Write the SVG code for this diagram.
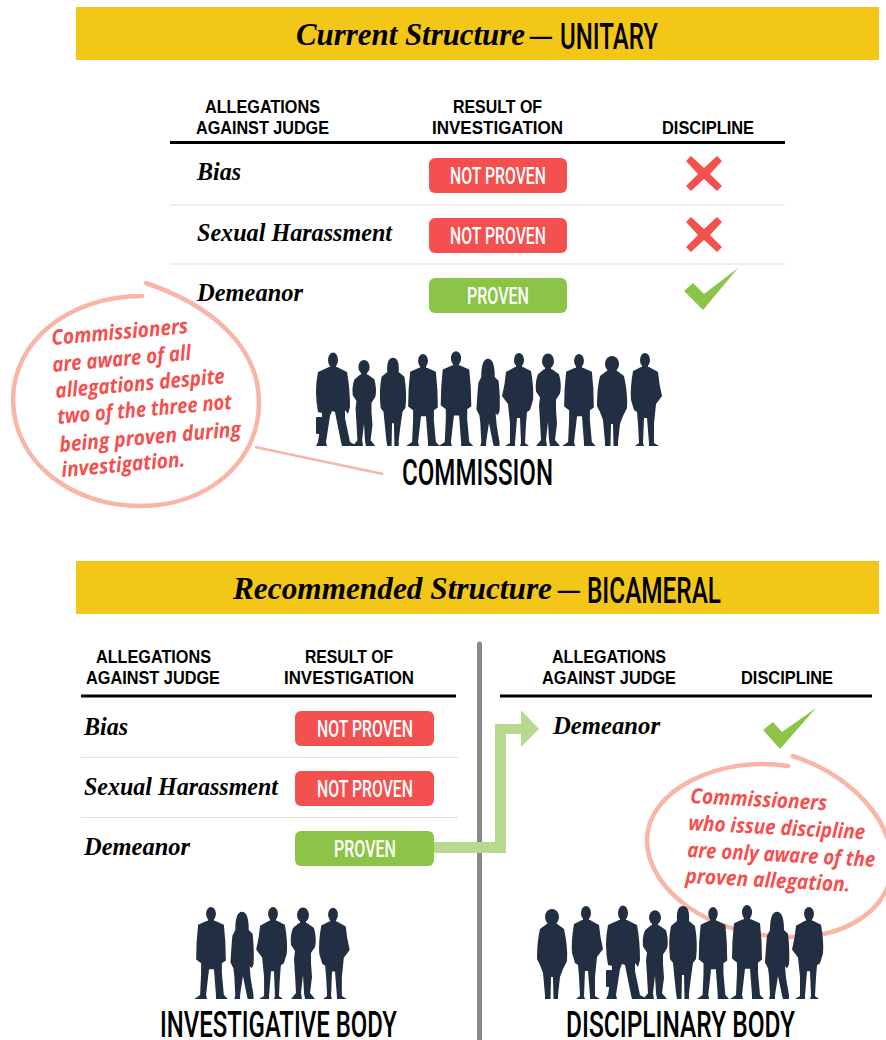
<svg xmlns="http://www.w3.org/2000/svg" width="886" height="1040" viewBox="0 0 886 1040">
<style>
.bar{fill:#f2c718}
.ti{font:italic bold 32px "Liberation Serif",serif;fill:#000}
.cn{font-family:Roboto,"Liberation Sans",sans-serif;fill:#000}
.big{font-size:36px;font-weight:500}
.hd{font:bold 19px "Liberation Sans",sans-serif;fill:#000}
.row{font:italic bold 26px "Liberation Serif",serif;fill:#000}
.pill{font:500 24px Roboto,"Liberation Sans",sans-serif;fill:#fff}
.red{fill:#f45050}.grn{fill:#8cc447}
.rule{stroke:#000;stroke-width:3}
.thin{stroke:#e6e0d4;stroke-width:1.2}
.bub{fill:none;stroke:#f9b5a6;stroke-width:4.5;stroke-linecap:round}
.note{font:italic 700 21px "Open Sans",sans-serif;fill:#f45050}
.p{fill:#222f42}
</style>
<defs>
<g id="m1" class="p"><ellipse cx="0" cy="-86" rx="5" ry="7.5"/><rect x="-3" y="-82" width="6" height="5"/><path d="M-4,-79 L4,-79 L14,-74 Q17,-58 17,-39 L15,-32 L12,-36 L12,-28 L17,-4 L24,0 L9,0 L8,-4 L2,-34 L-1,-35 L-3,-30 L-7,-4 L-6,0 L-17,0 L-15,-4 L-11,-30 L-11,-33 L-15,-34 Q-19,-55 -15,-74 Z"/><rect x="-17" y="-29" width="6" height="17" rx="1"/></g>
<g id="m2" class="p"><ellipse cx="0" cy="-86" rx="5" ry="7"/><rect x="-3" y="-82" width="6" height="5"/><path d="M-4,-79 L4,-79 L13,-75 Q15,-58 15,-39 L11,-36 L11,-26 L13,-4 L17,0 L5,0 L5,-4 L3,-30 L-2,-30 L-5,-4 L-4,0 L-17,0 L-11,-4 L-10,-26 L-10,-36 L-15,-40 Q-15,-58 -13,-75 Z"/></g>
<g id="m3" class="p"><ellipse cx="1" cy="-86" rx="5" ry="7"/><rect x="-2" y="-82" width="6" height="5"/><path d="M-3,-79 L5,-79 L13,-75 Q16,-58 15,-46 L12,-36 L9,-34 L8,-22 L7,-3 L11,0 L2,0 L3,-3 L2,-28 L-1,-28 L-3,-3 L-3,0 L-13,0 L-8,-3 L-8,-22 L-10,-42 L-16,-50 Q-13,-62 -12,-74 Z"/></g>
<g id="s1" class="p"><ellipse cx="0" cy="-84" rx="6" ry="7.500"/><rect x="-3" y="-80" width="6" height="5"/><path d="M-4,-76 L4,-76 L11,-71 Q14,-60 12,-52 L8,-46 L8,-36 L9,-22 L7,-6 L12,0 L2,0 L1,-6 L0,-24 L-2,-6 L-1,0 L-12,0 L-7,-6 L-8,-24 L-9,-40 L-8,-48 L-12,-54 Q-13,-64 -10,-71 Z"/></g>
<g id="w1" class="p"><path d="M-6,-78 Q-7,-93 0,-93 Q7,-93 6,-78 L12,-73 Q15,-55 13,-40 L10,-36 L8,-22 L6,-6 L6,0 L1.500,0 L1,-24 L-1,-24 L-1.500,0 L-6,0 L-7,-6 L-9,-26 L-10,-36 L-13,-40 Q-15,-58 -12,-73 Z"/></g>
<g id="w2" class="p"><ellipse cx="0" cy="-82" rx="7" ry="8"/><path d="M-4,-76 L4,-76 L12,-70 Q16,-52 15,-38 L11,-30 L8,-22 L6,-4 L6,0 L1.500,0 L1,-22 L-1,-22 L-1.500,0 L-7,0 L-7,-4 L-9,-26 L-12,-34 L-15,-40 Q-15,-58 -12,-70 Z"/></g>
<g id="l1" class="p"><path d="M-7,-72 Q-7,-91 0,-91 Q7,-91 7,-72 L11,-68 Q13,-50 12,-36 L10,-32 L8,-34 L9,-22 L12,-4 L12,0 L6,0 L5,-4 L1,-24 L-2,-4 L-2,0 L-8,0 L-7,-4 L-8,-24 L-9,-32 L-12,-38 Q-11,-56 -10,-66 Z"/></g>
</defs>
<g id="current-header">
<rect class="bar" x="76" y="7" width="803" height="53"/>
<text class="ti" x="296" y="45" textLength="229" lengthAdjust="spacingAndGlyphs">Current Structure</text>
<text class="ti" x="530" y="45" textLength="22" lengthAdjust="spacingAndGlyphs">—</text>
<text class="cn big" x="560" y="48.500" textLength="98" lengthAdjust="spacingAndGlyphs">UNITARY</text>
</g>
<g id="current-table">
<text class="hd" x="205" y="113" textLength="115" lengthAdjust="spacingAndGlyphs">ALLEGATIONS</text>
<text class="hd" x="196" y="134" textLength="133" lengthAdjust="spacingAndGlyphs">AGAINST JUDGE</text>
<text class="hd" x="453" y="113" textLength="89" lengthAdjust="spacingAndGlyphs">RESULT OF</text>
<text class="hd" x="432" y="134" textLength="131" lengthAdjust="spacingAndGlyphs">INVESTIGATION</text>
<text class="hd" x="662" y="134" textLength="92" lengthAdjust="spacingAndGlyphs">DISCIPLINE</text>
<line class="rule" x1="170" y1="142.500" x2="785" y2="142.500"/>
<line class="thin" x1="170" y1="205" x2="785" y2="205"/>
<line class="thin" x1="170" y1="264" x2="785" y2="264"/>
<text class="row" x="197" y="180" textLength="44" lengthAdjust="spacingAndGlyphs">Bias</text>
<text class="row" x="197" y="241" textLength="195" lengthAdjust="spacingAndGlyphs">Sexual Harassment</text>
<text class="row" x="197" y="301" textLength="106" lengthAdjust="spacingAndGlyphs">Demeanor</text>
</g>
<g id="current-bias-result"><rect class="red" x="429" y="158" width="138" height="35" rx="6"/><text class="pill" x="450" y="184" textLength="96" lengthAdjust="spacingAndGlyphs">NOT PROVEN</text></g>
<g id="current-harassment-result"><rect class="red" x="429" y="218" width="138" height="35" rx="6"/><text class="pill" x="450" y="244" textLength="96" lengthAdjust="spacingAndGlyphs">NOT PROVEN</text></g>
<g id="current-demeanor-result"><rect class="grn" x="429" y="278" width="138" height="35" rx="6"/><text class="pill" x="467" y="304" textLength="62" lengthAdjust="spacingAndGlyphs">PROVEN</text></g>
<g id="current-marks">
<path class="red" d="M691,156 L704,168 L717,156 L722,161 L710,174 L722,186 L717,191 L704,179 L691,191 L686,186 L698,174 L686,161 Z"/>
<path class="red" d="M691,217 L704,229 L717,217 L722,222 L710,235 L722,247 L717,252 L704,240 L691,252 L686,247 L698,235 L686,222 Z"/>
<polygon class="grn" points="684,291 693,283 704,294 738,268 703,310"/>
</g>
<g id="commission">
<use href="#m1" transform="translate(333,446)"/>
<use href="#s1" transform="translate(364,446) scale(.94)"/>
<use href="#w1" transform="translate(393,446) scale(.95)"/>
<use href="#m2" transform="translate(423,446) scale(.99)"/>
<use href="#m2" transform="translate(456,446) scale(1.02)"/>
<use href="#l1" transform="translate(488,446) scale(.96)"/>
<use href="#m3" transform="translate(518,446)"/>
<use href="#s1" transform="translate(548,446) scale(1,1.01)"/>
<use href="#m2" transform="translate(579,446) scale(.99)"/>
<use href="#w2" transform="translate(612,446) scale(1)"/>
<use href="#m3" transform="translate(646,446) scale(-1,1)"/>
<text class="cn big" x="402" y="485" textLength="151" lengthAdjust="spacingAndGlyphs">COMMISSION</text>
</g>
<g id="current-callout">
<path class="bub" d="M142,296 C70,296 13,340 13,400 C14,465 75,506 140,506 C210,506 259,460 259,403 C259,345 210,305 146,283"/>
<line x1="255" y1="447" x2="383" y2="474" stroke="#f9b5a6" stroke-width="2.500"/>
<text class="note" x="52" y="345" transform="rotate(-5 52 345)" textLength="137" lengthAdjust="spacingAndGlyphs">Commissioners</text>
<text class="note" x="53" y="372" transform="rotate(-5 53 372)" textLength="139" lengthAdjust="spacingAndGlyphs">are aware of all</text>
<text class="note" x="56" y="398" transform="rotate(-5 56 398)" textLength="170" lengthAdjust="spacingAndGlyphs">allegations despite</text>
<text class="note" x="58" y="424" transform="rotate(-5 58 424)" textLength="175" lengthAdjust="spacingAndGlyphs">two of the three not</text>
<text class="note" x="60" y="452" transform="rotate(-5 60 452)" textLength="182" lengthAdjust="spacingAndGlyphs">being proven during</text>
<text class="note" x="62" y="477" transform="rotate(-5 62 477)" textLength="124" lengthAdjust="spacingAndGlyphs">investigation.</text>
</g>
<g id="recommended-header">
<rect class="bar" x="76" y="561" width="803" height="53"/>
<text class="ti" x="233" y="599" textLength="319" lengthAdjust="spacingAndGlyphs">Recommended Structure</text>
<text class="ti" x="558" y="599" textLength="22" lengthAdjust="spacingAndGlyphs">—</text>
<text class="cn big" x="587" y="603" textLength="134" lengthAdjust="spacingAndGlyphs">BICAMERAL</text>
</g>
<g id="divider"><line x1="479.500" y1="644" x2="479.500" y2="1040" stroke="#88888f" stroke-width="5" stroke-linecap="round"/></g>
<g id="investigative-table">
<text class="hd" x="96" y="663" textLength="115" lengthAdjust="spacingAndGlyphs">ALLEGATIONS</text>
<text class="hd" x="86" y="684" textLength="134" lengthAdjust="spacingAndGlyphs">AGAINST JUDGE</text>
<text class="hd" x="305" y="663" textLength="88" lengthAdjust="spacingAndGlyphs">RESULT OF</text>
<text class="hd" x="284" y="684" textLength="130" lengthAdjust="spacingAndGlyphs">INVESTIGATION</text>
<line class="rule" x1="81" y1="696" x2="456" y2="696"/>
<line class="thin" x1="81" y1="757.500" x2="458" y2="757.500"/>
<line class="thin" x1="81" y1="817.500" x2="458" y2="817.500"/>
<text class="row" x="84" y="735" textLength="44" lengthAdjust="spacingAndGlyphs">Bias</text>
<text class="row" x="84" y="795" textLength="194" lengthAdjust="spacingAndGlyphs">Sexual Harassment</text>
<text class="row" x="84" y="855" textLength="106" lengthAdjust="spacingAndGlyphs">Demeanor</text>
</g>
<g id="connectors">
<polygon fill="#b8d88f" points="434,842 495,842 495,724 521,724 521,710 539,729 521,747 521,734 506,734 506,853 434,853"/>
</g>
<g id="inv-bias-result"><rect class="red" x="295" y="711" width="139" height="35" rx="6"/><text class="pill" x="317" y="737" textLength="96" lengthAdjust="spacingAndGlyphs">NOT PROVEN</text></g>
<g id="inv-harassment-result"><rect class="red" x="295" y="771" width="139" height="35" rx="6"/><text class="pill" x="317" y="797" textLength="96" lengthAdjust="spacingAndGlyphs">NOT PROVEN</text></g>
<g id="inv-demeanor-result"><rect class="grn" x="295" y="831" width="139" height="35" rx="6"/><text class="pill" x="334" y="857" textLength="62" lengthAdjust="spacingAndGlyphs">PROVEN</text></g>
<g id="investigative-body">
<use href="#m2" transform="translate(211,999) scale(.99)"/>
<use href="#l1" transform="translate(242,999) scale(.96)"/>
<use href="#m3" transform="translate(272,999) scale(.99)"/>
<use href="#s1" transform="translate(303,999)"/>
<use href="#m3" transform="translate(334,999) scale(-.98,.98)"/>
<text class="cn big" x="160" y="1037" textLength="237" lengthAdjust="spacingAndGlyphs">INVESTIGATIVE BODY</text>
</g>
<g id="disciplinary-table">
<text class="hd" x="552" y="663" textLength="114" lengthAdjust="spacingAndGlyphs">ALLEGATIONS</text>
<text class="hd" x="542" y="684" textLength="134" lengthAdjust="spacingAndGlyphs">AGAINST JUDGE</text>
<text class="hd" x="741" y="684" textLength="92" lengthAdjust="spacingAndGlyphs">DISCIPLINE</text>
<line class="rule" x1="500" y1="696" x2="872" y2="696"/>
<text class="row" x="553" y="734" textLength="107" lengthAdjust="spacingAndGlyphs">Demeanor</text>
<polygon class="grn" points="763,730 773,722 782,732 816,708 780,749"/>
</g>
<g id="disciplinary-callout">
<path class="bub" d="M788,766 C720,755 647,790 647,840 C647,890 710,937 790,937 C840,938 886,915 892,870 C895,820 850,775 793,756"/>
<text class="note" x="690" y="803" transform="rotate(3 690 803)" textLength="137" lengthAdjust="spacingAndGlyphs">Commissioners</text>
<text class="note" x="688" y="830" transform="rotate(3 688 830)" textLength="177" lengthAdjust="spacingAndGlyphs">who issue discipline</text>
<text class="note" x="687" y="857" transform="rotate(3 687 857)" textLength="188" lengthAdjust="spacingAndGlyphs">are only aware of the</text>
<text class="note" x="685" y="883" transform="rotate(3 685 883)" textLength="165" lengthAdjust="spacingAndGlyphs">proven allegation.</text>
</g>
<g id="disciplinary-body">
<use href="#w2" transform="translate(552,999)"/>
<use href="#m3" transform="translate(587,999) scale(-1,1)"/>
<use href="#m1" transform="translate(623,999)"/>
<use href="#s1" transform="translate(655,999) scale(1,.97)"/>
<use href="#w1" transform="translate(683,999)"/>
<use href="#m2" transform="translate(713,999) scale(.95,.99)"/>
<use href="#m2" transform="translate(747,999) scale(1,1.01)"/>
<use href="#l1" transform="translate(777,999) scale(1,.96)"/>
<use href="#m3" transform="translate(808,999) scale(1,.99)"/>
<text class="cn big" x="566" y="1037" textLength="229" lengthAdjust="spacingAndGlyphs">DISCIPLINARY BODY</text>
</g>
</svg>
